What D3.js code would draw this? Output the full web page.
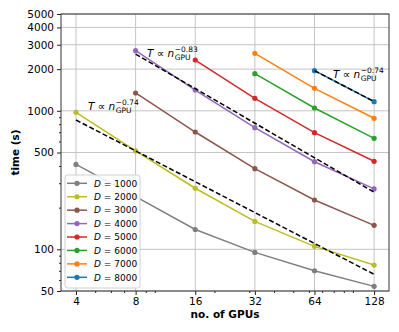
<!DOCTYPE html>
<html>
<head>
<meta charset="utf-8">
<script src="https://cdn.jsdelivr.net/npm/d3@7"></script>
<style>
  html, body { margin: 0; padding: 0; background: #fff; overflow: hidden; }
  svg { display: block; width: 100vw; height: 100vh; font-family: "DejaVu Sans", sans-serif; }
</style>
</head>
<body>
<svg id="chart"></svg>
<script>
// data
const gpus = [4, 8, 16, 32, 64, 128];
const times1000 = [410, 240, 139, 95, 70, 54];
const times2000 = [975, 513, 276, 159, 105, 77];
const times3000 = [null, 1345, 703, 382, 227, 149];
const times4000 = [null, 2717, 1413, 755, 429, 273];
const times5000 = [null, null, 2327, 1230, 695, 432];
const times6000 = [null, null, null, 1853, 1048, 633];
const times7000 = [null, null, null, 2600, 1453, 883];
const times8000 = [null, null, null, null, 1948, 1164];
const sizes = [1000, 2000, 3000, 4000, 5000, 6000, 7000, 8000];
const colors = ["#7f7f7f", "#bcbd22", "#8c564b", "#9467bd", "#d62728", "#2ca02c", "#ff7f0e", "#1f77b4"];
const yTicks = [50, 100, 500, 1000, 2000, 3000, 4000, 5000];
const yMinor = [60, 70, 80, 90, 200, 300, 400, 600, 700, 800, 900];
const xMinor = [5, 6, 7, 9, 10, 20, 30, 40, 50, 60, 70, 80, 90, 100];

// dashed fits: endpoints + exponent label
const fitGpus = [[4, 128], [8, 128], [64, 128]];
const fitTimes = [[858, 66], [2570, 258], [1948, 1167]];
const fitExps = ["−0.74", "−0.83", "−0.74"];

const series = [times1000, times2000, times3000, times4000, times5000, times6000, times7000, times8000];

const width = 399, height = 332;
const margin = { top: 14, right: 10, bottom: 41, left: 61 };
const innerWidth = width - margin.left - margin.right;
const innerHeight = height - margin.top - margin.bottom;

const svg = d3.select("#chart")
    .attr("viewBox", `0 0 ${width} ${height}`)
    .attr("preserveAspectRatio", "xMidYMid meet");
const g = svg.append("g").attr("transform", `translate(${margin.left},${margin.top})`);

const x = d3.scaleLog().base(2).domain([3.36, 152.2]).range([0, innerWidth]);
const y = d3.scaleLog().domain([50, 5000]).range([innerHeight, 0]);

// grid
g.append("g")
    .selectAll("line")
    .data(gpus)
    .enter().append("line")
    .attr("x1", d => x(d)).attr("x2", d => x(d))
    .attr("y1", 0).attr("y2", innerHeight)
    .style("stroke", "#c4c4c4").style("stroke-width", 1);

g.append("g")
    .selectAll("line")
    .data(yTicks)
    .enter().append("line")
    .attr("x1", 0).attr("x2", innerWidth)
    .attr("y1", d => y(d)).attr("y2", d => y(d))
    .style("stroke", "#c4c4c4").style("stroke-width", 1);

// axes
g.append("g")
    .attr("transform", `translate(0,${innerHeight})`)
    .call(d3.axisBottom(x).tickValues(gpus).tickFormat(d3.format("d")).tickSize(4).tickPadding(3));
const xMinorAxis = g.append("g")
    .attr("transform", `translate(0,${innerHeight})`)
    .call(d3.axisBottom(x).tickValues(xMinor).tickFormat("").tickSize(2));
xMinorAxis.selectAll("text").remove();

g.append("g")
    .call(d3.axisLeft(y).tickValues(yTicks).tickFormat(d3.format("d")).tickSize(4).tickPadding(3));
const yMinorAxis = g.append("g")
    .call(d3.axisLeft(y).tickValues(yMinor).tickFormat("").tickSize(2));
yMinorAxis.selectAll("text").remove();

g.selectAll(".tick text").style("font-size", "10.5px").style("fill", "#000")
    .style("font-family", "DejaVu Sans");
g.selectAll(".tick line").style("stroke", "#222");
g.selectAll(".domain").remove();

// frame
g.append("rect")
    .attr("width", innerWidth).attr("height", innerHeight)
    .style("fill", "none").style("stroke", "#333").style("stroke-width", 1);

// series lines
const line = d3.line()
    .defined(d => d.t !== null)
    .x(d => x(d.n))
    .y(d => y(d.t));

series.forEach((vals, i) => {
    const pts = gpus.map((n, j) => ({ n: n, t: vals[j] }));
    g.append("path")
        .datum(pts)
        .attr("d", line)
        .style("fill", "none")
        .style("stroke", colors[i])
        .style("stroke-width", 1.5);
    g.append("g")
        .selectAll("circle")
        .data(pts.filter(d => d.t !== null))
        .enter().append("circle")
        .attr("cx", d => x(d.n))
        .attr("cy", d => y(d.t))
        .attr("r", 2.6)
        .style("fill", colors[i]);
});

// dashed fits
fitGpus.forEach((ns, i) => {
    g.append("line")
        .attr("x1", x(ns[0])).attr("y1", y(fitTimes[i][0]))
        .attr("x2", x(ns[1])).attr("y2", y(fitTimes[i][1]))
        .style("stroke", "#000")
        .style("stroke-width", 1.5)
        .style("stroke-dasharray", "5,2.5");
});

// power-law labels
const labelPos = [[88, 110], [147, 57], [333, 78]];
labelPos.forEach((p, i) => {
    const lab = svg.append("g").attr("transform", `translate(${p[0]},${p[1]})`);
    const main = lab.append("text").style("font-size", "10.5px");
    main.append("tspan").style("font-style", "italic").text("T");
    main.append("tspan").text(" ∝ ");
    main.append("tspan").style("font-style", "italic").text("n");
    const w = main.node().getComputedTextLength();
    lab.append("text").attr("x", w + 0.5).attr("y", 2.5)
        .style("font-size", "7.5px").text("GPU");
    lab.append("text").attr("x", w + 0.5).attr("y", -5)
        .style("font-size", "7.5px").text(fitExps[i]);
});

// legend
const legend = svg.append("g").attr("transform", "translate(65,175)");
legend.append("rect")
    .attr("width", 75).attr("height", 113)
    .attr("rx", 2.5)
    .style("fill", "rgba(255,255,255,0.85)")
    .style("stroke", "#d0d0d0").style("stroke-width", 1);

const items = legend.selectAll(".legend-item")
    .data(sizes)
    .enter().append("g")
    .attr("class", "legend-item")
    .attr("transform", (d, i) => `translate(0,${8.3 + i * 13.43})`);

items.append("line")
    .attr("x1", 2).attr("x2", 22)
    .style("stroke", (d, i) => colors[i]).style("stroke-width", 1.5);
items.append("circle")
    .attr("cx", 12).attr("r", 2.6)
    .style("fill", (d, i) => colors[i]);
const lt = items.append("text")
    .attr("x", 29).attr("y", 3.3)
    .style("font-size", "9px");
lt.append("tspan").style("font-style", "italic").text("D");
lt.append("tspan").text(d => " = " + d);

// axis titles
svg.append("text")
    .attr("x", margin.left + innerWidth / 2).attr("y", 318)
    .attr("text-anchor", "middle")
    .style("font-size", "10.5px").style("font-weight", "bold")
    .text("no. of GPUs");
svg.append("text")
    .attr("transform", `translate(19,${margin.top + innerHeight / 2}) rotate(-90)`)
    .attr("text-anchor", "middle")
    .style("font-size", "10.5px").style("font-weight", "bold")
    .text("time (s)");
</script>
</body>
</html>
